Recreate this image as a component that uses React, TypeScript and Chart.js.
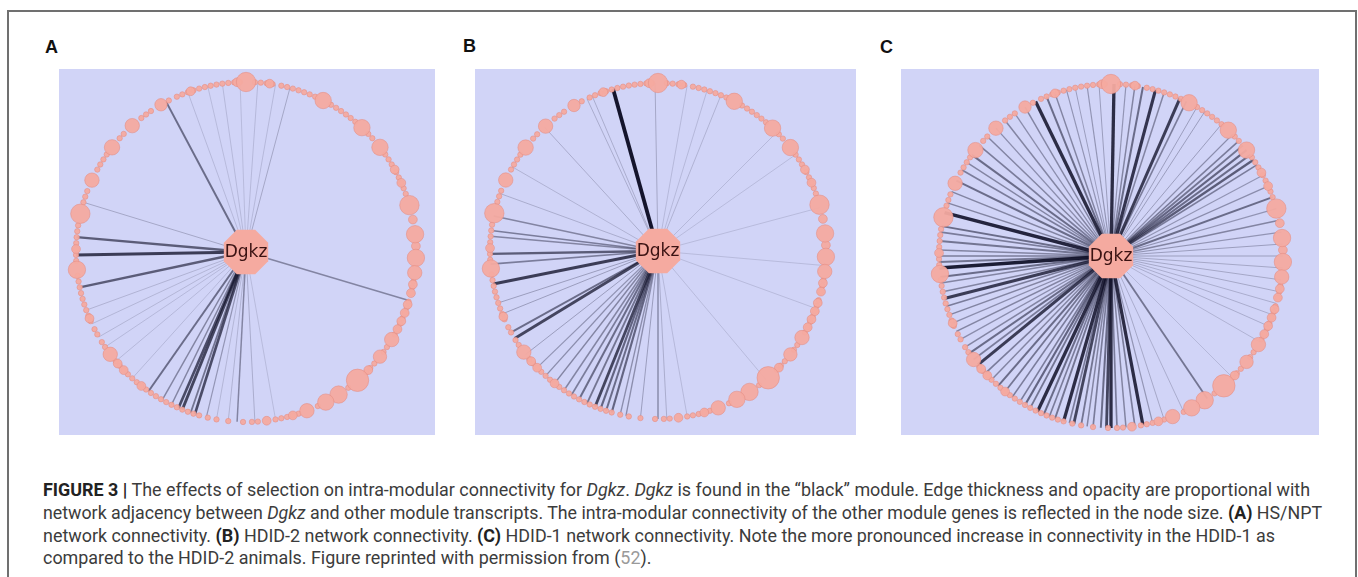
import React, { useEffect, useLayoutEffect, useRef } from "react";
import { Chart, registerables } from "chart.js";

Chart.register(...registerables);

// ---------- data ----------
const hubLabel = "Dgkz";
const panelLetters = ["A", "B", "C"];

// node layout (angle in degrees, clockwise from top) shared by the three networks
const largeNodeAngles = [0, 27, 43, 52, 74, 84, 92, 97, 121, 128, 139, 147, 152, 159, 233, 264, 283, 295, 308, 318, 330];
const largeNodeConnectivity = [0.75, 0.6, 0.6, 0.6, 0.75, 0.65, 0.65, 0.5, 0.5, 0.45, 0.9, 0.65, 0.6, 0.5, 0.5, 0.65, 0.75, 0.5, 0.55, 0.5, 0.4];
const midNodeAngles = [61, 66, 79, 88, 101, 104, 108, 111, 114, 117, 134, 164, 173, 218, 226, 229, 247, 271, 341, 357, 8];
const midNodeConnectivity = 0.22;
const smallNodeAngles = [
  336, 338, 340, 342, 344, 346, 348, 350, 352, 354, 356, 358, 3, 5, 7, 9, 12, 14, 16, 18, 20, 22, 24,
  30, 32, 34, 36, 38, 40, 46, 48, 55, 57, 59, 62, 64, 66, 68, 70, 100, 102, 104, 107, 109, 111, 113,
  115, 117, 119, 124, 126, 131, 133, 135, 143, 155, 162, 164, 166, 168, 170, 176, 178, 181, 186, 190,
  193, 196, 198, 200, 202, 204, 206, 208, 210, 212, 214, 216, 218, 220, 222, 224, 226, 228, 230, 236,
  238, 241, 243, 246, 248, 250, 252, 254, 256, 258, 260, 262, 267, 269, 271, 273, 275, 277, 279, 287,
  289, 291, 299, 301, 303, 305, 312, 314, 322, 324, 326, 333,
];
const smallNodeConnectivity = 0.05;

// edges: [node angle, adjacency with Dgkz]
const adjacencyA: [number, number][] = [
  [340, 0.06], [347, 0.05], [352, 0.06], [358, 0.05], [4, 0.06], [10, 0.06], [15, 0.12], [287, 0.12],
  [250, 0.08], [245, 0.07], [240, 0.07], [236, 0.06], [230, 0.06], [222, 0.06], [190, 0.07], [186, 0.08],
  [177, 0.1], [170, 0.05], [332, 0.45], [275, 0.55], [269, 0.75], [258, 0.55], [215, 0.45], [209.5, 0.3],
  [206, 0.3], [203.4, 0.65], [202, 0.7], [199, 0.4], [197.5, 0.65], [193.5, 0.2], [183, 0.3], [106.6, 0.3],
];
const adjacencyB: [number, number][] = [
  [344.5, 1.0], [317.5, 0.1], [335, 0.1], [337, 0.1], [359, 0.12], [10, 0.06], [17, 0.06], [22, 0.08],
  [45, 0.06], [55, 0.05], [300, 0.08], [290, 0.1], [282, 0.3], [277, 0.35], [275, 0.3], [269, 0.55],
  [265.5, 0.35], [258.7, 0.75], [252, 0.15], [248, 0.15], [241, 0.45], [238.6, 0.7], [232, 0.15], [226, 0.2],
  [222, 0.25], [218, 0.3], [214, 0.3], [211, 0.35], [208, 0.45], [205, 0.4], [202, 0.7], [200, 0.5],
  [198, 0.45], [196, 0.5], [193, 0.25], [191, 0.25], [186, 0.15], [180, 0.1], [177, 0.1], [170, 0.06],
  [140, 0.05], [110, 0.05], [95, 0.05], [75, 0.05],
];
const adjacencyC: [number, number][] = [
  [1, 0.85], [334, 0.85], [338, 0.45], [341, 0.3], [345, 0.2], [348, 0.15], [352, 0.2], [356, 0.15],
  [5, 0.2], [8, 0.3], [10.7, 0.45], [15, 0.8], [18, 0.3], [23.6, 0.75], [26, 0.35], [30, 0.15], [33, 0.15],
  [40, 0.15], [45, 0.25], [48, 0.35], [50, 0.4], [52, 0.5], [54, 0.45], [56, 0.55], [58, 0.35], [62, 0.2],
  [66, 0.25], [70, 0.45], [74, 0.2], [78, 0.3], [82, 0.2], [86, 0.15], [90, 0.15], [94, 0.12], [98, 0.12],
  [102, 0.12], [106, 0.1], [110, 0.1], [114, 0.1], [120, 0.08], [135, 0.06], [146, 0.4], [155, 0.1],
  [162, 0.12], [166, 0.2], [169.3, 0.85], [172, 0.35], [175, 0.3], [178, 0.35], [180, 0.85], [181.5, 0.7],
  [183.4, 0.45], [186, 0.35], [188, 0.3], [190, 0.4], [192.5, 0.7], [194, 0.35], [196, 0.85], [199, 0.4],
  [201, 0.35], [203, 0.45], [205.3, 0.85], [208, 0.4], [210, 0.5], [212, 0.35], [215, 0.35], [218, 0.4],
  [221, 0.45], [224, 0.3], [227, 0.35], [230.7, 0.75], [233, 0.35], [235.5, 0.45], [238, 0.3], [241, 0.25],
  [244, 0.3], [247, 0.25], [250, 0.3], [253, 0.35], [255.7, 0.75], [258, 0.3], [261, 0.3], [263, 0.45],
  [266, 0.95], [268, 0.4], [270, 0.35], [272, 0.3], [275, 0.4], [278, 0.35], [280, 0.45], [284.6, 0.9],
  [288, 0.3], [292, 0.3], [296, 0.45], [300, 0.35], [303, 0.3], [306, 0.45], [310, 0.35], [314, 0.3],
  [318, 0.25], [322, 0.3], [326, 0.25], [330, 0.3],
];

// ---------- styles / layout ----------
const LAVENDER = "rgb(209,212,247)";
const NODE_FILL = "rgba(244,170,160,0.95)";
const NODE_EDGE = "rgba(228,140,130,0.9)";

type Box = { left: number; top: number; w: number; h: number; cx: number; cy: number; r: number };
const panelBoxes: Box[] = [
  { left: 59, top: 69, w: 376, h: 366, cx: 187, cy: 183, r: 170 },
  { left: 475, top: 69, w: 381, h: 366, cx: 183, cy: 182, r: 168 },
  { left: 901, top: 69, w: 418, h: 366, cx: 210, cy: 187, r: 172 },
];
const panelData = [adjacencyA, adjacencyB, adjacencyC];
const letterPos = [
  { left: 45, top: 38 },
  { left: 463, top: 37 },
  { left: 880, top: 38 },
];

function makeOctagon(radius: number) {
  const c = document.createElement("canvas");
  const s = Math.ceil(radius * 2 + 2);
  c.width = s;
  c.height = s;
  const ctx = c.getContext("2d")!;
  ctx.beginPath();
  for (let k = 0; k < 8; k++) {
    const a = ((22.5 + k * 45) * Math.PI) / 180;
    const x = s / 2 + radius * Math.cos(a);
    const y = s / 2 + radius * Math.sin(a);
    if (k === 0) ctx.moveTo(x, y);
    else ctx.lineTo(x, y);
  }
  ctx.closePath();
  ctx.fillStyle = "rgb(245,170,160)";
  ctx.fill();
  return c;
}

function toXY(deg: number) {
  const a = (deg * Math.PI) / 180;
  return { x: Math.sin(a), y: Math.cos(a) };
}

function NetworkPanel({ box, edges }: { box: Box; edges: [number, number][] }) {
  const ref = useRef<HTMLCanvasElement>(null);
  useEffect(() => {
    const { w, h, cx, cy, r } = box;
    const edgeSets = edges.map(([deg, adj]) => ({
      data: [{ x: 0, y: 0 }, toXY(deg)],
      showLine: true,
      borderColor: `rgba(16,16,40,${Math.min(1, 0.16 + 0.82 * adj)})`,
      borderWidth: 0.5 + 3.3 * adj,
      pointRadius: 0,
      order: 3,
    }));
    const nodes = [
      ...smallNodeAngles.map((a) => ({ a, c: smallNodeConnectivity })),
      ...midNodeAngles.map((a) => ({ a, c: midNodeConnectivity })),
      ...largeNodeAngles.map((a, i) => ({ a, c: largeNodeConnectivity[i] })),
    ];
    const nodeSet = {
      data: nodes.map((n) => toXY(n.a)),
      pointRadius: nodes.map((n) => 2.2 + 10 * n.c),
      backgroundColor: NODE_FILL,
      borderColor: NODE_EDGE,
      borderWidth: 0.6,
      order: 2,
    };
    const hubSet = {
      data: [{ x: 0, y: 0 }],
      pointStyle: makeOctagon(24),
      pointRadius: 24,
      order: 1,
    };
    const bgPlugin = {
      id: "bg",
      beforeDraw(chart: any) {
        const ctx = chart.ctx;
        ctx.save();
        ctx.fillStyle = LAVENDER;
        ctx.fillRect(0, 0, chart.width, chart.height);
        ctx.restore();
      },
    };
    const labelPlugin = {
      id: "hubLabel",
      afterDatasetsDraw(chart: any) {
        const ctx = chart.ctx;
        const x = chart.scales.x.getPixelForValue(0);
        const y = chart.scales.y.getPixelForValue(0);
        ctx.save();
        ctx.font = '17px "DejaVu Sans"';
        ctx.fillStyle = "#3a1212";
        ctx.textAlign = "center";
        ctx.textBaseline = "middle";
        ctx.fillText(hubLabel, x, y + 1);
        ctx.restore();
      },
    };
    const chart = new Chart(ref.current!, {
      type: "scatter",
      data: { datasets: [...edgeSets, nodeSet, hubSet] as any },
      options: {
        animation: false,
        responsive: false,
        events: [],
        layout: { padding: 0, autoPadding: false },
        scales: {
          x: { type: "linear", display: false, min: -cx / r, max: (w - cx) / r },
          y: { type: "linear", display: false, min: -(h - cy) / r, max: cy / r },
        },
        plugins: { legend: { display: false }, tooltip: { enabled: false } },
      },
      plugins: [bgPlugin, labelPlugin],
    });
    return () => chart.destroy();
  }, []);
  return (
    <canvas
      ref={ref}
      width={box.w}
      height={box.h}
      style={{ position: "absolute", left: box.left, top: box.top, width: box.w, height: box.h }}
    />
  );
}

const captionLineWidths = [1267, 1279, 1232];
const captionTops = [480, 503, 525.5, 548];

function Caption() {
  const refs = useRef<(HTMLSpanElement | null)[]>([]);
  useLayoutEffect(() => {
    let firstScale = 1;
    refs.current.forEach((el, i) => {
      if (!el) return;
      el.style.transform = "none";
      const w = el.getBoundingClientRect().width;
      if (w <= 0) return;
      const s = i < captionLineWidths.length ? captionLineWidths[i] / w : firstScale;
      if (i === 0) firstScale = s;
      el.style.transform = `scaleX(${s})`;
    });
  }, []);
  const B = (t: string) => <b style={{ fontWeight: 700, color: "#222" }}>{t}</b>;
  const I = (t: string) => <i>{t}</i>;
  const lines = [
    <>
      {B("FIGURE 3 |")} The effects of selection on intra-modular connectivity for {I("Dgkz")}. {I("Dgkz")} is found in
      the “black” module. Edge thickness and opacity are proportional with
    </>,
    <>
      network adjacency between {I("Dgkz")} and other module transcripts. The intra-modular connectivity of the other
      module genes is reflected in the node size. {B("(A)")} HS/NPT
    </>,
    <>
      network connectivity. {B("(B)")} HDID-2 network connectivity. {B("(C)")} HDID-1 network connectivity. Note the more
      pronounced increase in connectivity in the HDID-1 as
    </>,
    <>
      compared to the HDID-2 animals. Figure reprinted with permission from (<span style={{ color: "#9a9a9a" }}>52</span>).
    </>,
  ];
  return (
    <>
      {lines.map((l, i) => (
        <span
          key={i}
          ref={(el) => {
            refs.current[i] = el;
          }}
          style={{
            position: "absolute",
            left: 43,
            top: captionTops[i],
            whiteSpace: "nowrap",
            display: "inline-block",
            transformOrigin: "0 0",
            font: '400 18px Roboto, "Liberation Sans", sans-serif',
            lineHeight: "20px",
            color: "#3c3c3c",
          }}
        >
          {l}
        </span>
      ))}
    </>
  );
}

export default function App() {
  return (
    <div
      style={{
        position: "absolute",
        left: 0,
        top: 0,
        width: 1358,
        height: 577,
        overflow: "hidden",
        background: "#fff",
      }}
    >
      <div
        style={{
          position: "absolute",
          left: 7,
          top: 10,
          width: 1346,
          height: 620,
          border: "2px solid #707070",
        }}
      />
      {panelLetters.map((t, i) => (
        <div
          key={t}
          style={{
            position: "absolute",
            left: letterPos[i].left,
            top: letterPos[i].top,
            font: '700 18px "Liberation Sans", Arial, sans-serif',
            lineHeight: "18px",
            color: "#111",
          }}
        >
          {t}
        </div>
      ))}
      {panelBoxes.map((b, i) => (
        <NetworkPanel key={i} box={b} edges={panelData[i]} />
      ))}
      <Caption />
    </div>
  );
}
